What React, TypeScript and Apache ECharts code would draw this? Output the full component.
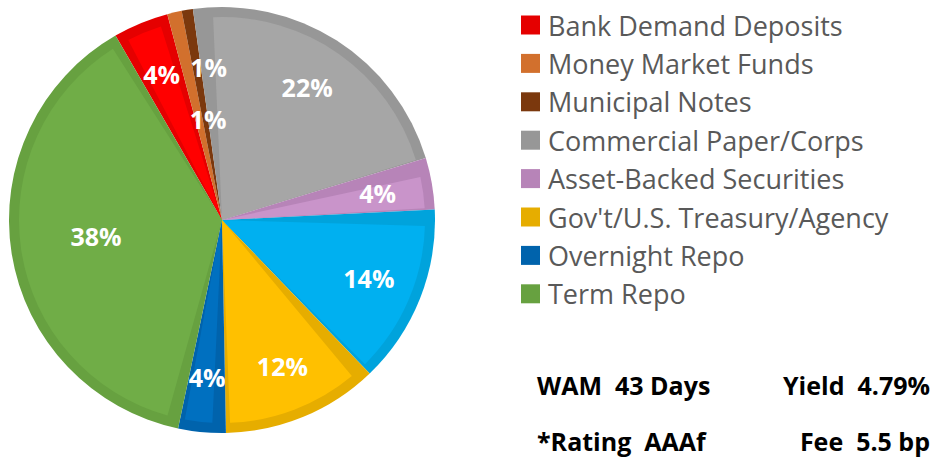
import React, { useEffect, useRef } from 'react';
import * as echarts from 'echarts';

const categories = [
  'Bank Demand Deposits',
  'Money Market Funds',
  'Municipal Notes',
  'Commercial Paper/Corps',
  'Asset-Backed Securities',
  'Other',
  "Gov't/U.S. Treasury/Agency",
  'Overnight Repo',
  'Term Repo',
];
const values = [4.2, 1.1, 0.85, 22.49, 3.9, 13.6, 11.9, 3.6, 38.36];
const legendNames = categories.filter((c) => c !== 'Other');
const edgeColors = ['#E50000', '#D2702D', '#7B380D', '#979797', '#B784B8', '#00A3DC', '#E6AD00', '#0063AC', '#67A140'];
const fillColors = ['#FF0000', '#DF7A33', '#87400F', '#A6A6A6', '#C994CA', '#00B0F0', '#FFC000', '#0070C0', '#70AD47'];
const labelOffsets: Record<string, number[]> = {
  'Money Market Funds': [22, 1],
  'Municipal Notes': [12, 55],
  'Term Repo': [30, -9],
};
const statsLeft = ['WAM  43 Days', '*Rating  AAAf'];
const statsRight = ['Yield  4.79%', 'Fee  5.5 bp'];

const FONT = '"Open Sans", sans-serif';

export default function App() {
  const ref = useRef<HTMLDivElement>(null);
  useEffect(() => {
    if (!ref.current) return;
    const chart = echarts.init(ref.current, undefined, { renderer: 'svg' });
    const center = [222, 220];
    const common = {
      type: 'pie',
      center,
      startAngle: 120,
      clockwise: true,
      silent: true,
      emphasis: { disabled: true },
      labelLine: { show: false },
    };
    chart.setOption({
      animation: false,
      legend: {
        data: legendNames,
        orient: 'vertical',
        left: 521,
        top: 10,
        padding: 0,
        itemWidth: 19,
        itemHeight: 19,
        itemGap: 8.4,
        icon: 'rect',
        selectedMode: false,
        textStyle: { fontFamily: FONT, fontSize: 27, color: '#595959', lineHeight: 30, padding: [0, 0, 0, 3] },
      },
      series: [
        {
          ...common,
          name: 'base',
          radius: [0, 213],
          label: { show: false },
          data: categories.map((n, i) => ({ name: n, value: values[i], itemStyle: { color: edgeColors[i] } })),
        },
        {
          ...common,
          name: 'inner',
          radius: [0, 203],
          padAngle: 5,
          label: { show: false },
          data: categories.map((n, i) => ({ name: n, value: values[i], itemStyle: { color: fillColors[i] } })),
        },
        {
          ...common,
          name: 'labels',
          radius: [110, 200],
          itemStyle: { color: 'rgba(0,0,0,0)' },
          label: {
            show: true,
            position: 'inside',
            formatter: (p: any) => Math.round(p.value) + '%',
            color: '#ffffff',
            fontFamily: FONT,
            fontSize: 25,
            fontWeight: 'bold',
          },
          data: categories.map((n, i) => ({
            name: n,
            value: values[i],
            label: labelOffsets[n] ? { offset: labelOffsets[n] } : undefined,
          })),
        },
      ],
      graphic: [
        ...statsLeft.map((t, i) => ({
          type: 'text',
          x: 537,
          y: 385 + i * 56,
          style: { text: t, fontFamily: FONT, fontSize: 25, fontWeight: 'bold', fill: '#000', align: 'left', verticalAlign: 'middle' },
        })),
        ...statsRight.map((t, i) => ({
          type: 'text',
          x: 930,
          y: 385 + i * 56,
          style: { text: t, fontFamily: FONT, fontSize: 25, fontWeight: 'bold', fill: '#000', align: 'right', verticalAlign: 'middle' },
        })),
      ],
    });
    return () => chart.dispose();
  }, []);
  return <div ref={ref} style={{ position: 'absolute', left: 0, top: 0, width: 934, height: 457, background: '#fff' }} />;
}
